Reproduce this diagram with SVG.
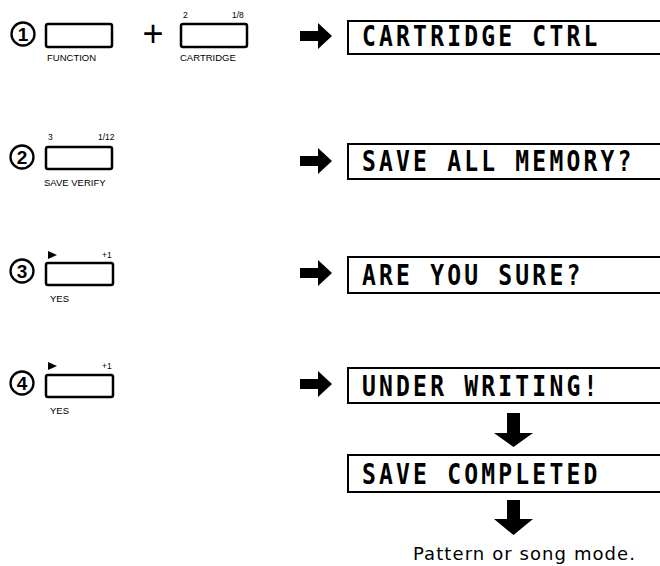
<svg xmlns="http://www.w3.org/2000/svg" width="660" height="566" viewBox="0 0 660 566">
<style>
.btn{fill:#fff;stroke:#000;stroke-width:2.5}
.disp{fill:#fff;stroke:#000;stroke-width:2}
.circ{fill:#fff;stroke:#000;stroke-width:2.3}
.num{font-family:"Liberation Sans",Arial,sans-serif;font-weight:bold;font-size:19px;text-anchor:middle;fill:#000}
.lbl{font-family:"Liberation Sans",Arial,sans-serif;font-size:9.5px;fill:#000}
.sm{font-family:"Liberation Sans",Arial,sans-serif;font-size:8.5px;fill:#000}
.lcd{font-family:"DejaVu Sans Mono","Liberation Mono",monospace;font-weight:bold;font-size:23px;letter-spacing:3.2px;fill:#000}
.note{font-family:"DejaVu Sans","Noto Sans",sans-serif;font-size:18px;fill:#000}
.arr{fill:#000}
</style>
<rect width="660" height="566" fill="#fff"/>

<g id="step1">
  <circle class="circ" cx="23" cy="34" r="11.5"/>
  <text class="num" x="23" y="41">1</text>
  <rect class="btn" x="46" y="24" width="66" height="23" rx="2"/>
  <text class="lbl" x="47" y="61">FUNCTION</text>
  <text x="153" y="46" font-family="Liberation Sans,Arial,sans-serif" font-size="36" text-anchor="middle">+</text>
  <rect class="btn" x="181" y="24" width="66" height="23" rx="2"/>
  <text class="sm" x="183" y="18">2</text>
  <text class="sm" x="232" y="18">1/8</text>
  <text class="lbl" x="180" y="61">CARTRIDGE</text>
</g>
<g id="disp1">
  <rect class="disp" x="348" y="21" width="330" height="33"/>
  <text class="lcd" transform="translate(362,46) scale(1,1.25)">CARTRIDGE CTRL</text>
</g>

<g id="step2">
  <circle class="circ" cx="22" cy="157" r="11.5"/>
  <text class="num" x="22" y="164">2</text>
  <rect class="btn" x="46" y="147" width="66" height="22" rx="2"/>
  <text class="sm" x="48" y="140">3</text>
  <text class="sm" x="98" y="140">1/12</text>
  <text class="lbl" x="44" y="186">SAVE VERIFY</text>
</g>
<g id="disp2">
  <rect class="disp" x="348" y="144" width="330" height="35"/>
  <text class="lcd" transform="translate(362,171) scale(1,1.25)">SAVE ALL MEMORY?</text>
</g>

<g id="step3">
  <circle class="circ" cx="22" cy="271" r="11.5"/>
  <text class="num" x="22" y="278">3</text>
  <rect class="btn" x="46" y="263" width="67" height="22" rx="2"/>
  <polygon points="48,251 57,255 48,259" fill="#000"/>
  <text class="sm" x="102" y="258">+1</text>
  <text class="lbl" x="50" y="302">YES</text>
</g>
<g id="disp3">
  <rect class="disp" x="348" y="257" width="330" height="36"/>
  <text class="lcd" transform="translate(362,285) scale(1,1.25)">ARE YOU SURE?</text>
</g>

<g id="step4">
  <circle class="circ" cx="22" cy="383" r="11.5"/>
  <text class="num" x="22" y="390">4</text>
  <rect class="btn" x="46" y="375" width="67" height="22" rx="2"/>
  <polygon points="48,362 57,366 48,370" fill="#000"/>
  <text class="sm" x="102" y="369">+1</text>
  <text class="lbl" x="50" y="414">YES</text>
</g>
<g id="disp4">
  <rect class="disp" x="348" y="368" width="330" height="35"/>
  <text class="lcd" transform="translate(362,396) scale(1,1.25)">UNDER WRITING!</text>
</g>

<g id="disp5">
  <rect class="disp" x="348" y="455" width="330" height="37"/>
  <text class="lcd" transform="translate(362,484) scale(1,1.25)">SAVE COMPLETED</text>
</g>

<g id="result">
  <text class="note" x="413" y="560" textLength="222" lengthAdjust="spacing">Pattern or song mode.</text>
</g>

<g id="connectors">
  <path class="arr" d="M300,31 H318 V23 L332,36 L318,49 V41 H300 Z"/>
  <path class="arr" d="M300,156 H318 V148 L332,161 L318,174 V166 H300 Z"/>
  <path class="arr" d="M300,268 H318 V260 L332,273 L318,286 V278 H300 Z"/>
  <path class="arr" d="M300,379 H318 V371 L332,384 L318,397 V389 H300 Z"/>
  <path class="arr" d="M507,413 H520 V433 H533 L513.5,447 L494,433 H507 Z"/>
  <path class="arr" d="M507,500 H520 V519 H533 L513.5,535 L494,519 H507 Z"/>
</g>
</svg>
